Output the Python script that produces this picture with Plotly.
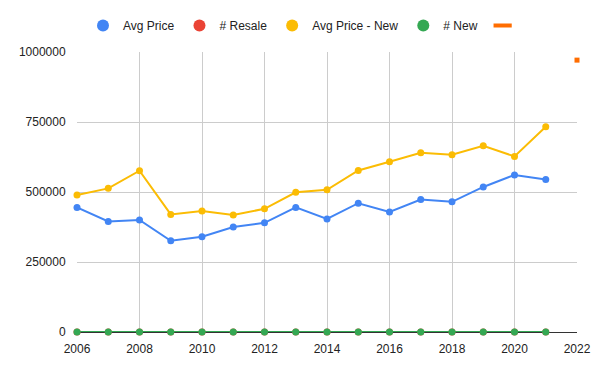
import plotly.graph_objects as go

years = list(range(2006, 2022))
avg_price = [445000, 395000, 400000, 326000, 340000, 375000, 390000, 445000,
             404000, 460000, 429000, 473000, 465000, 518000, 561000, 545000]
num_resale = [0] * 16
avg_price_new = [489000, 513000, 576000, 420000, 432000, 418000, 440000, 499000,
                 508000, 577000, 608000, 640000, 633000, 665000, 627000, 733000]
num_new = [0] * 16
extra_x = [2022]
extra_y = [971000]

BLUE, RED, YELLOW, GREEN, ORANGE = "#4285F4", "#EA4335", "#FBBC04", "#34A853", "#FF6D01"
FONT = "Liberation Sans, Arial, sans-serif"

fig = go.Figure()

def series(x, y, color, name):
    fig.add_trace(go.Scatter(x=x, y=y, mode="lines+markers", name=name,
                             line=dict(color=color, width=2),
                             marker=dict(color=color, size=7),
                             showlegend=False, cliponaxis=False))
    fig.add_trace(go.Scatter(x=[None], y=[None], mode="markers", name=name,
                             marker=dict(color=color, size=12), showlegend=True))

series(years, avg_price, BLUE, "Avg Price")
series(years, num_resale, RED, "# Resale")
series(years, avg_price_new, YELLOW, "Avg Price - New")
series(years, num_new, GREEN, "# New")

fig.add_trace(go.Scatter(x=extra_x, y=extra_y, mode="markers", name=" ",
                         marker=dict(color=ORANGE, size=5, symbol="square"),
                         showlegend=False, cliponaxis=False))
fig.add_trace(go.Scatter(x=[None], y=[None], mode="markers", name=" ",
                         marker=dict(symbol="line-ew", size=13, color=ORANGE,
                                     line=dict(color=ORANGE, width=4)),
                         showlegend=True))

# page body has an 8px margin, so the figure is 8px smaller and shifted
W, H = 592, 363
fig.update_layout(
    width=W, height=H,
    margin=dict(l=69, r=23, t=44, b=39, autoexpand=False),
    paper_bgcolor="white", plot_bgcolor="white",
    font=dict(family=FONT, size=12, color="#222222"),
    legend=dict(orientation="h", x=0.46, xanchor="center",
                yref="container", y=1 - 17.5 / H, yanchor="middle",
                font=dict(size=12, color="#222222"), itemsizing="trace",
                traceorder="normal"),
)
fig.update_xaxes(range=[2006, 2022], tickvals=list(range(2006, 2023, 2)),
                 showgrid=True, gridcolor="#CCCCCC", gridwidth=1,
                 zeroline=False, showline=False,
                 ticks="outside", ticklen=6, tickcolor="rgba(0,0,0,0)",
                 tickfont=dict(family=FONT, size=12, color="#222222"))
fig.update_yaxes(range=[0, 1000000], tickvals=[0, 250000, 500000, 750000, 1000000],
                 tickformat="d", showgrid=True, gridcolor="#CCCCCC", gridwidth=1,
                 zeroline=True, zerolinecolor="#333333", zerolinewidth=1,
                 showline=False,
                 ticks="outside", ticklen=8, tickcolor="rgba(0,0,0,0)",
                 tickfont=dict(family=FONT, size=12, color="#222222"))

fig.write_html("out.html")
